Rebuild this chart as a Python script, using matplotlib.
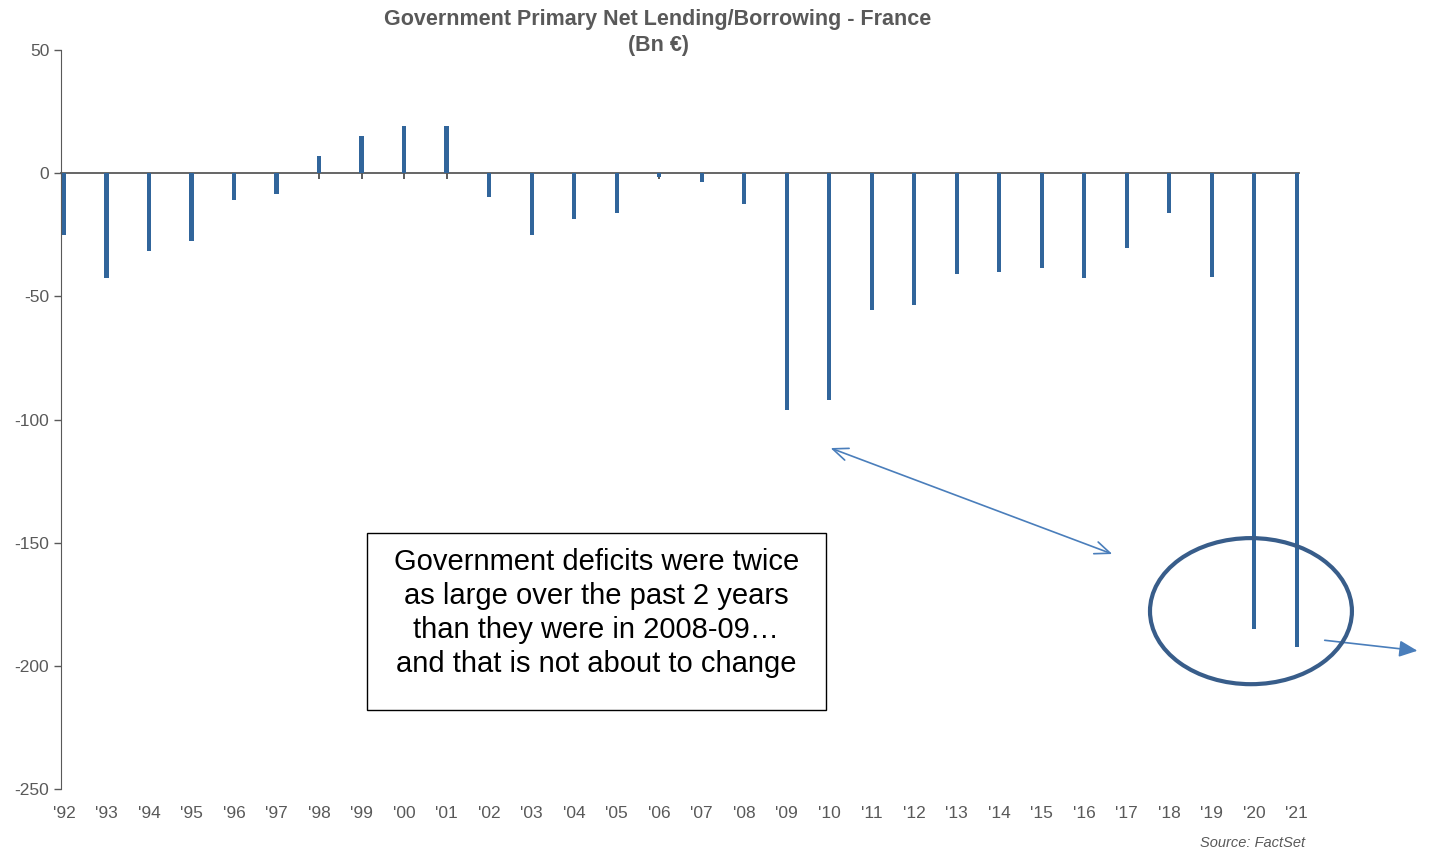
import matplotlib
matplotlib.use("Agg")
import matplotlib.pyplot as plt
from matplotlib.patches import Ellipse, Rectangle

plt.rcParams['font.family'] = ['Liberation Sans', 'DejaVu Sans']
plt.rcParams['axes.unicode_minus'] = False

# Donnees (Bn EUR)
annees = ["'92", "'93", "'94", "'95", "'96", "'97", "'98", "'99", "'00", "'01",
          "'02", "'03", "'04", "'05", "'06", "'07", "'08", "'09", "'10", "'11",
          "'12", "'13", "'14", "'15", "'16", "'17", "'18", "'19", "'20", "'21"]
solde = [-25, -42.5, -31.5, -27.5, -11, -8.5, 7, 15, 19, 19,
         -9.5, -25, -18.5, -16, -1.5, -3.5, -12.5, -96, -92, -55.5,
         -53.5, -41, -40, -38.5, -42.5, -30.5, -16, -42, -185, -192.5]
yticks = [-250, -200, -150, -100, -50, 0, 50]

gris = '#595959'
bleu = '#31659b'

fig = plt.figure(figsize=(14.3, 8.52), dpi=100)
ax = fig.add_axes([61/1430, 63/852, 1238/1430, 739/852])

x = list(range(len(annees)))
ax.bar(x, solde, width=0.1, color=bleu, zorder=3)

ax.set_xlim(-0.07, len(annees) - 0.95)
ax.set_ylim(-250, 50)
ax.set_yticks(yticks)
ax.tick_params(axis='y', colors=gris, labelsize=12.5, length=5, width=1)

# axe des x au niveau de zero
for s in ['top', 'right']:
    ax.spines[s].set_visible(False)
ax.spines['left'].set_color(gris)
ax.spines['bottom'].set_position(('data', 0))
ax.spines['bottom'].set_color(gris)
ax.spines['bottom'].set_linewidth(1.3)
ax.set_xticks(x)
ax.tick_params(axis='x', direction='out', length=4, width=1.2, color='#404040', labelbottom=False)

sec = ax.secondary_xaxis(0)
sec.set_xticks(x)
sec.set_xticklabels(annees)
sec.spines['bottom'].set_visible(False)
sec.tick_params(length=0, pad=12, labelsize=12.5, colors=gris)

fig.text(658/1430, 1 - 19/852, 'Government Primary Net Lending/Borrowing - France',
         ha='center', va='center', fontsize=15.5, fontweight='bold', color=gris)
fig.text(658/1430, 1 - 45/852, '(Bn €)',
         ha='center', va='center', fontsize=15.5, fontweight='bold', color=gris)
fig.text(1305/1430, 1 - 843/852, 'Source: FactSet', ha='right', va='center',
         fontsize=10.5, style='italic', color=gris)

# encadre de texte
ax.add_patch(Rectangle((7.13, -217.9), 10.79, 71.8, fill=False, edgecolor='black',
                       linewidth=1, zorder=4))
ax.text(12.52, -178.5, 'Government deficits were twice\nas large over the past 2 years\n'
        'than they were in 2008-09…\nand that is not about to change',
        ha='center', va='center', fontsize=21, linespacing=1.27, color='black', zorder=5)

# ellipse autour de '20 et '21
ax.add_patch(Ellipse((27.92, -177.8), 4.75, 59.3, fill=False, edgecolor='#385d8a',
                     linewidth=3, zorder=4, clip_on=False))

# fleches
ax.annotate('', xy=(17.97, -111.2), xytext=(24.72, -155),
            arrowprops=dict(arrowstyle='<->,head_length=1.1,head_width=0.45',
                            color='#4a7ebb', lw=1.2), annotation_clip=False)
ax.annotate('', xy=(31.9, -194), xytext=(29.59, -189.5),
            arrowprops=dict(arrowstyle='-|>,head_length=1.1,head_width=0.5',
                            color='#4a7ebb', lw=1.2), annotation_clip=False)

fig.savefig('out.png', dpi=100)
